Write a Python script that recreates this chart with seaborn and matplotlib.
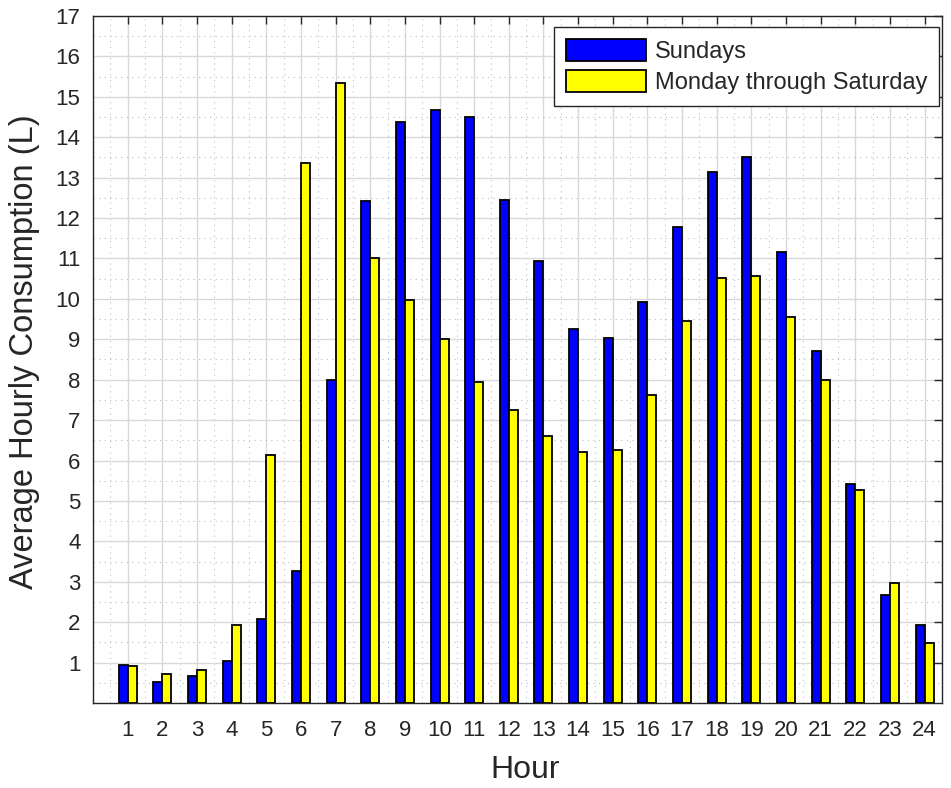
import numpy as np
import pandas as pd
import matplotlib
matplotlib.use("Agg")
from matplotlib import pyplot as plt
from matplotlib.ticker import MultipleLocator
from matplotlib.patches import Patch
import seaborn as sns

# values
hours = list(range(1, 25))
sundays = [0.93, 0.53, 0.66, 1.03, 2.07, 3.27, 8.0, 12.41, 14.37, 14.68, 14.49, 12.44,
           10.94, 9.25, 9.02, 9.93, 11.78, 13.13, 13.51, 11.17, 8.70, 5.42, 2.67, 1.93]
mon_sat = [0.92, 0.71, 0.82, 1.92, 6.14, 13.37, 15.35, 11.01, 9.96, 9.0, 7.95, 7.25,
           6.61, 6.20, 6.27, 7.61, 9.44, 10.52, 10.56, 9.54, 8.0, 5.27, 2.96, 1.49]
series_names = ["Sundays", "Monday through Saturday"]
series_colors = ["#0000ff", "#ffff00"]

df = pd.DataFrame({
    "Hour": hours * 2,
    "Consumption": sundays + mon_sat,
    "Series": [series_names[0]] * len(hours) + [series_names[1]] * len(hours),
})

sns.set_theme(style="white")
plt.rcParams["font.family"] = ["Liberation Sans", "DejaVu Sans"]
text_col = "#262626"

fig = plt.figure(figsize=(9.51, 7.88), dpi=100)
ax = fig.add_axes([0.0978, 0.1079, 0.8927, 0.8718])

sns.barplot(data=df, x="Hour", y="Consumption", hue="Series", native_scale=True,
            palette=dict(zip(series_names, series_colors)), width=0.52, gap=0,
            edgecolor="black", linewidth=1.3, saturation=1, errorbar=None,
            legend=False, ax=ax, zorder=3)

ax.set_xlim(0, 24.5)
ax.set_ylim(0, 17)
ax.set_xticks(hours)
ax.set_xticklabels([str(h) for h in hours])
ax.set_yticks(range(1, 18))
ax.xaxis.set_minor_locator(MultipleLocator(0.5))
ax.yaxis.set_minor_locator(MultipleLocator(0.5))

ax.grid(which="major", color="#d9d9d9", linewidth=1.0, zorder=0)
ax.grid(which="minor", color="#bdbdbd", linestyle=(0, (1, 4)), linewidth=0.8, zorder=0)
ax.set_axisbelow(True)

for s in ax.spines.values():
    s.set_visible(True)
    s.set_color(text_col)
    s.set_linewidth(1.0)

ax.tick_params(which="major", direction="in", length=6, width=1.0, color=text_col,
               top=True, right=True, labelsize=16, labelcolor=text_col)
ax.tick_params(axis="x", which="major", pad=12)
ax.tick_params(axis="y", which="major", pad=9)
ax.tick_params(which="minor", length=0)

ax.set_xlabel("Hour", fontsize=23, color=text_col, labelpad=10)
ax.set_ylabel("Average Hourly Consumption (L)", fontsize=23.5, color=text_col, labelpad=11)
ax.xaxis.label.set_x(0.509)
ax.yaxis.label.set_y(0.511)

handles = [Patch(facecolor=c, edgecolor="black", linewidth=1.3) for c in series_colors]
leg = ax.legend(handles, series_names, loc="upper right", bbox_to_anchor=(0.9965, 0.984),
                fontsize=17, handlelength=3.4, handleheight=1.05, handletextpad=0.35,
                labelspacing=0.3, borderaxespad=0, fancybox=False,
                framealpha=1, edgecolor=text_col, borderpad=0.5)
leg.get_frame().set_linewidth(1.0)
for t in leg.get_texts():
    t.set_color(text_col)

fig.savefig("out.png", dpi=100)
